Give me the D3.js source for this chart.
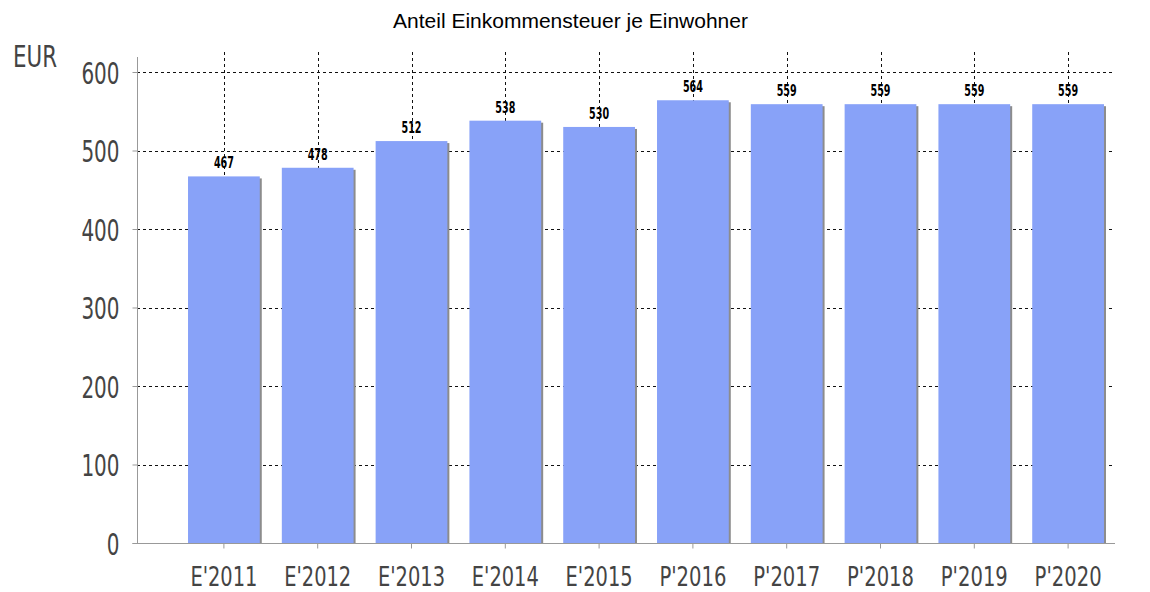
<!DOCTYPE html>
<html><head><meta charset="utf-8">
<script src="https://cdn.jsdelivr.net/npm/d3@7"></script>
<style>body{margin:0;background:#fff}svg{display:block}</style>
</head><body>
<svg id="c" width="1150" height="592"></svg>
<script>
const categories = ["E'2011","E'2012","E'2013","E'2014","E'2015","P'2016","P'2017","P'2018","P'2019","P'2020"];
const values = [467,478,512,538,530,564,559,559,559,559];
const yTicks = [0,100,200,300,400,500,600];
const title = "Anteil Einkommensteuer je Einwohner";
const unit = "EUR";

const svg = d3.select("#c");
const axL = 137, axR = 1115, y0 = 543, yTop = 72;
const x = d3.scaleBand().domain(categories).range([177, 1115]).paddingInner(0.235).paddingOuter(0.1175);
const y = d3.scaleLinear().domain([0,600]).range([y0, yTop]);
const tickFont = "'DejaVu Sans Condensed','DejaVu Sans',sans-serif";

// title
svg.append("text").attr("x",393).attr("y",28)
  .attr("font-family","'Liberation Sans',Arial,sans-serif").attr("font-size",21).attr("fill","#000")
  .attr("textLength",355).attr("lengthAdjust","spacingAndGlyphs").text(title);
svg.append("text").attr("x",13).attr("y",67)
  .attr("font-family",tickFont).attr("font-size",30).attr("fill","#444")
  .attr("textLength",44).attr("lengthAdjust","spacingAndGlyphs").text(unit);

// horizontal grid
svg.append("g").selectAll("line").data(yTicks.filter(d=>d>0)).join("line")
  .attr("x1",axL).attr("x2",axR).attr("y1",d=>Math.round(y(d))+0.5).attr("y2",d=>Math.round(y(d))+0.5)
  .attr("stroke","#111").attr("stroke-dasharray","3,3").attr("stroke-width",1);
// vertical grid
svg.append("g").selectAll("line").data(categories).join("line")
  .attr("x1",d=>Math.round(x(d)+x.bandwidth()/2)+0.5).attr("x2",d=>Math.round(x(d)+x.bandwidth()/2)+0.5)
  .attr("y1",52).attr("y2",y0)
  .attr("stroke","#111").attr("stroke-dasharray","3,3").attr("stroke-width",1);

// bars with shadow
const bars = svg.append("g");
bars.selectAll("rect.sh").data(values).join("rect").attr("class","sh")
  .attr("x",(d,i)=>x(categories[i])+2).attr("y",d=>y(d)+2)
  .attr("width",x.bandwidth()).attr("height",d=>y0-y(d)-2).attr("fill","#8c8c8c");
bars.selectAll("rect.b").data(values).join("rect").attr("class","b")
  .attr("x",(d,i)=>x(categories[i])).attr("y",d=>y(d))
  .attr("width",x.bandwidth()).attr("height",d=>y0-y(d)).attr("fill","#88a2f8");

// value labels
svg.append("g").selectAll("text").data(values).join("text")
  .attr("x",(d,i)=>x(categories[i])+x.bandwidth()/2-10).attr("y",d=>y(d)-8)
  .attr("font-family",tickFont).attr("font-weight","bold")
  .attr("font-size",15).attr("fill","#000")
  .attr("textLength",20).attr("lengthAdjust","spacingAndGlyphs").text(d=>d);

// y axis
const ya = svg.append("g").attr("transform",`translate(${axL+0.5},0)`)
  .call(d3.axisLeft(y).tickValues(yTicks).tickSize(5).tickPadding(13));
ya.select(".domain").attr("d",`M-5,${y0+0.5}H0V57`).attr("stroke","#999");
ya.selectAll(".tick line").attr("stroke","#999");
ya.selectAll(".tick text").attr("font-family",tickFont)
  .attr("font-size",31).attr("fill","#444").attr("dy","0.36em")
  .attr("textLength",d=>12.7*String(d).length).attr("lengthAdjust","spacingAndGlyphs");

// x axis
const xa = svg.append("g").attr("transform",`translate(0,${y0+0.5})`)
  .call(d3.axisBottom(x).tickSize(5).tickPadding(0));
xa.select(".domain").attr("d",`M${axL},0H${axR}`).attr("stroke","#999");
xa.selectAll(".tick line").attr("stroke","#999");
xa.selectAll(".tick text").attr("font-family",tickFont)
  .attr("font-size",26).attr("fill","#444").attr("dy",null).attr("y",42.5)
  .attr("text-anchor","start").attr("x",-33.5)
  .attr("textLength",67).attr("lengthAdjust","spacingAndGlyphs");
</script>
</body></html>
